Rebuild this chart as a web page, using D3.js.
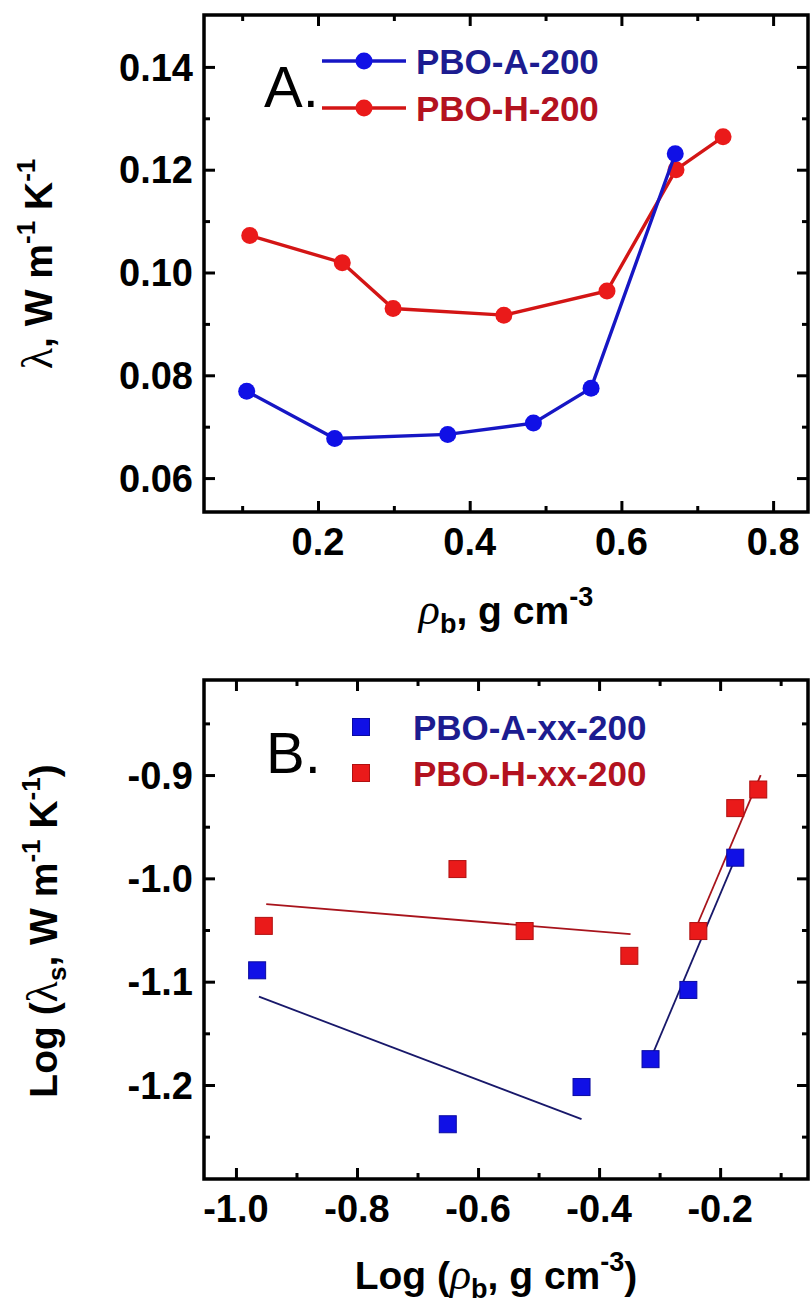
<!DOCTYPE html>
<html>
<head>
<meta charset="utf-8">
<script src="https://cdn.jsdelivr.net/npm/d3@7"></script>
<style>
  html, body { margin: 0; padding: 0; background: #fff; }
  svg { display: block; }
  text { font-family: "Liberation Sans", Arial, sans-serif; }
</style>
</head>
<body>
<svg id="chart" width="810" height="1308"></svg>
<script>
// ---------- Data (panel A) ----------
const rhoA = [0.106, 0.222, 0.371, 0.484, 0.560, 0.671];
const lamA = [0.0769, 0.0677, 0.0685, 0.0707, 0.0775, 0.1231];
const rhoH = [0.110, 0.232, 0.299, 0.445, 0.581, 0.672, 0.734];
const lamH = [0.1072, 0.1019, 0.0930, 0.0917, 0.0964, 0.1200, 0.1264];
const xTicksA = [0.2, 0.4, 0.6, 0.8];
const xMinorA = [0.1, 0.3, 0.5, 0.7];
const yTicksA = [0.06, 0.08, 0.10, 0.12, 0.14];
const yMinorA = [0.07, 0.09, 0.11, 0.13];

// ---------- Data (panel B) ----------
const logRhoA = [-0.965, -0.650, -0.429, -0.315, -0.2525, -0.175];
const logLamA = [-1.089, -1.238, -1.202, -1.175, -1.108, -0.980];
const logRhoH = [-0.954, -0.634, -0.523, -0.350, -0.236, -0.175, -0.137];
const logLamH = [-1.046, -0.991, -1.051, -1.075, -1.051, -0.932, -0.914];
// fitted line end points
const fitA1 = [[-0.962, -1.1145], [-0.429, -1.233]];
const fitA2 = [[-0.315, -1.175], [-0.173, -0.978]];
const fitH1 = [[-0.950, -1.025], [-0.348, -1.054]];
const fitH2 = [[-0.236, -1.0425], [-0.133, -0.900]];
const xTicksB = [-1.0, -0.8, -0.6, -0.4, -0.2];
const xMinorB = [-0.9, -0.7, -0.5, -0.3, -0.1];
const yTicksB = [-1.2, -1.1, -1.0, -0.9];
const yMinorB = [-1.25, -1.15, -1.05, -0.95, -0.85];

const svg = d3.select("#chart");
const BLUE_LINE = "#1616c4", BLUE_MK = "#1010e6";
const RED_LINE = "#d31515", RED_MK = "#ea1a1a";
const BLUE_TXT = "#1c1c90", RED_TXT = "#b3121f";
const fmt = p => d => d3.format(p)(d).replace("\u2212", "-");

function frame(g, x, y, xMaj, xMin, yMaj, yMin, fmtX, fmtY) {
  const [x0, x1] = x.range(), [y1, y0] = y.range();
  const W = x1 - x0, H = y1 - y0;
  const ax = (gen, tv, size, tr) => {
    const a = g.append("g").attr("transform", tr)
      .call(gen.tickValues(tv).tickSize(size).tickFormat(""));
    a.select(".domain").remove();
    a.selectAll("line").attr("stroke", "#000").attr("stroke-width", 3);
    return a;
  };
  ax(d3.axisBottom(x), xMaj, -11, `translate(0,${y1})`);
  ax(d3.axisBottom(x), xMin, -6, `translate(0,${y1})`);
  ax(d3.axisTop(x), xMaj, -11, `translate(0,${y0})`);
  ax(d3.axisTop(x), xMin, -6, `translate(0,${y0})`);
  ax(d3.axisLeft(y), yMaj, -11, `translate(${x0},0)`);
  ax(d3.axisLeft(y), yMin, -6, `translate(${x0},0)`);
  ax(d3.axisRight(y), yMaj, -11, `translate(${x1},0)`);
  ax(d3.axisRight(y), yMin, -6, `translate(${x1},0)`);
  g.append("rect").attr("x", x0).attr("y", y0).attr("width", W).attr("height", H)
    .attr("fill", "none").attr("stroke", "#000").attr("stroke-width", 3.5);
  g.append("g").selectAll("text").data(xMaj).join("text")
    .attr("x", d => x(d)).attr("y", y1 + 43)
    .attr("text-anchor", "middle").attr("font-size", 38).attr("font-weight", "bold")
    .text(fmtX);
  g.append("g").selectAll("text").data(yMaj).join("text")
    .attr("x", x0 - 11).attr("y", d => y(d)).attr("dy", "0.36em")
    .attr("text-anchor", "end").attr("font-size", 38).attr("font-weight", "bold")
    .text(fmtY);
}

// ================= Panel A =================
const xA = d3.scaleLinear().domain([0.0497, 0.846]).range([204, 808]);
const yA = d3.scaleLinear().domain([0.0534, 0.1501]).range([512, 15]);
const gA = svg.append("g");

const lineA = d3.line().x(d => xA(d[0])).y(d => yA(d[1]));
const serAH = rhoH.map((r, i) => [r, lamH[i]]);
const serAA = rhoA.map((r, i) => [r, lamA[i]]);
gA.append("path").datum(serAH).attr("d", lineA).attr("fill", "none")
  .attr("stroke", RED_LINE).attr("stroke-width", 3.4);
gA.append("g").selectAll("circle").data(serAH).join("circle")
  .attr("cx", d => xA(d[0])).attr("cy", d => yA(d[1])).attr("r", 8.5).attr("fill", RED_MK);
gA.append("path").datum(serAA).attr("d", lineA).attr("fill", "none")
  .attr("stroke", BLUE_LINE).attr("stroke-width", 3.4);
gA.append("g").selectAll("circle").data(serAA).join("circle")
  .attr("cx", d => xA(d[0])).attr("cy", d => yA(d[1])).attr("r", 8.5).attr("fill", BLUE_MK);

frame(gA, xA, yA, xTicksA, xMinorA, yTicksA, yMinorA, fmt(".1f"), fmt(".2f"));

// legend A
const legA = [
  {name: "PBO-A-200", line: BLUE_LINE, mk: BLUE_MK, txt: BLUE_TXT, y: 61},
  {name: "PBO-H-200", line: RED_LINE, mk: RED_MK, txt: RED_TXT, y: 108}
];
legA.forEach(l => {
  gA.append("line").attr("x1", 322).attr("x2", 406).attr("y1", l.y).attr("y2", l.y)
    .attr("stroke", l.line).attr("stroke-width", 3.4);
  gA.append("circle").attr("cx", 364).attr("cy", l.y).attr("r", 8.5).attr("fill", l.mk);
  gA.append("text").attr("x", 416).attr("y", l.y).attr("dy", "0.36em")
    .attr("font-size", 35).attr("font-weight", "bold").attr("fill", l.txt).text(l.name);
});
gA.append("text").attr("x", 264).attr("y", 107).attr("font-size", 58).text("A.");

// axis titles A
const xtA = gA.append("text").attr("x", 506).attr("y", 624).attr("text-anchor", "middle")
  .attr("font-size", 39).attr("font-weight", "bold");
xtA.append("tspan").attr("font-family", "Liberation Serif").attr("font-style", "italic")
  .attr("font-weight", "normal").attr("font-size", 44).text("ρ");
xtA.append("tspan").attr("font-size", 27).attr("dy", 9).text("b");
xtA.append("tspan").attr("dy", -9).text(", g cm");
xtA.append("tspan").attr("font-size", 27).attr("dy", -18).text("-3");

const ytA = gA.append("text").attr("transform", "translate(52,264) rotate(-90)")
  .attr("text-anchor", "middle").attr("font-size", 39).attr("font-weight", "bold");
ytA.append("tspan").attr("font-family", "Liberation Serif").attr("font-weight", "normal")
  .attr("font-size", 44).text("λ");
ytA.append("tspan").text(", W m");
ytA.append("tspan").attr("font-size", 26).attr("dy", -17).text("-1");
ytA.append("tspan").attr("dy", 17).text(" K");
ytA.append("tspan").attr("font-size", 26).attr("dy", -17).text("-1");

// ================= Panel B =================
const xB = d3.scaleLinear().domain([-1.0528, -0.0548]).range([204, 808]);
const yB = d3.scaleLinear().domain([-1.291, -0.808]).range([1179, 680]);
const gB = svg.append("g");
const lineB = d3.line().x(d => xB(d[0])).y(d => yB(d[1]));

[[fitH1, "#a8141c"], [fitH2, "#a8141c"], [fitA1, "#18186a"], [fitA2, "#18186a"]].forEach(([f, c]) => {
  gB.append("path").datum(f).attr("d", lineB).attr("fill", "none")
    .attr("stroke", c).attr("stroke-width", 1.8);
});
const SQ = 17;
const serBH = logRhoH.map((r, i) => [r, logLamH[i]]);
const serBA = logRhoA.map((r, i) => [r, logLamA[i]]);
gB.append("g").selectAll("rect").data(serBH).join("rect")
  .attr("x", d => xB(d[0]) - SQ / 2).attr("y", d => yB(d[1]) - SQ / 2)
  .attr("width", SQ).attr("height", SQ).attr("fill", RED_MK).attr("stroke", "#b01010").attr("stroke-width", 1);
gB.append("g").selectAll("rect").data(serBA).join("rect")
  .attr("x", d => xB(d[0]) - SQ / 2).attr("y", d => yB(d[1]) - SQ / 2)
  .attr("width", SQ).attr("height", SQ).attr("fill", BLUE_MK).attr("stroke", "#0a0aa0").attr("stroke-width", 1);

frame(gB, xB, yB, xTicksB, xMinorB, yTicksB, yMinorB, fmt(".1f"), fmt(".1f"));

// legend B
const legB = [
  {name: "PBO-A-xx-200", mk: BLUE_MK, st: "#0a0aa0", txt: BLUE_TXT, y: 727},
  {name: "PBO-H-xx-200", mk: RED_MK, st: "#b01010", txt: RED_TXT, y: 773}
];
legB.forEach(l => {
  gB.append("rect").attr("x", 361 - SQ / 2).attr("y", l.y - SQ / 2).attr("width", SQ).attr("height", SQ)
    .attr("fill", l.mk).attr("stroke", l.st).attr("stroke-width", 1);
  gB.append("text").attr("x", 413).attr("y", l.y).attr("dy", "0.36em")
    .attr("font-size", 35).attr("font-weight", "bold").attr("fill", l.txt).text(l.name);
});
gB.append("text").attr("x", 266).attr("y", 773).attr("font-size", 58).text("B.");

// axis titles B
const xtB = gB.append("text").attr("x", 496).attr("y", 1289).attr("text-anchor", "middle")
  .attr("font-size", 39).attr("font-weight", "bold");
xtB.append("tspan").text("Log (");
xtB.append("tspan").attr("font-family", "Liberation Serif").attr("font-style", "italic")
  .attr("font-weight", "normal").attr("font-size", 44).text("ρ");
xtB.append("tspan").attr("font-size", 27).attr("dy", 9).text("b");
xtB.append("tspan").attr("dy", -9).text(", g cm");
xtB.append("tspan").attr("font-size", 27).attr("dy", -18).text("-3");
xtB.append("tspan").attr("dy", 18).text(")");

const ytB = gB.append("text").attr("transform", "translate(57,931) rotate(-90)")
  .attr("text-anchor", "middle").attr("font-size", 39).attr("font-weight", "bold");
ytB.append("tspan").text("Log (");
ytB.append("tspan").attr("font-family", "Liberation Serif").attr("font-weight", "normal")
  .attr("font-size", 44).text("λ");
ytB.append("tspan").attr("font-size", 26).attr("dy", 9).text("s");
ytB.append("tspan").attr("dy", -9).text(", W m");
ytB.append("tspan").attr("font-size", 26).attr("dy", -17).text("-1");
ytB.append("tspan").attr("dy", 17).text(" K");
ytB.append("tspan").attr("font-size", 26).attr("dy", -17).text("-1");
ytB.append("tspan").attr("dy", 17).text(")");
</script>
</body>
</html>
